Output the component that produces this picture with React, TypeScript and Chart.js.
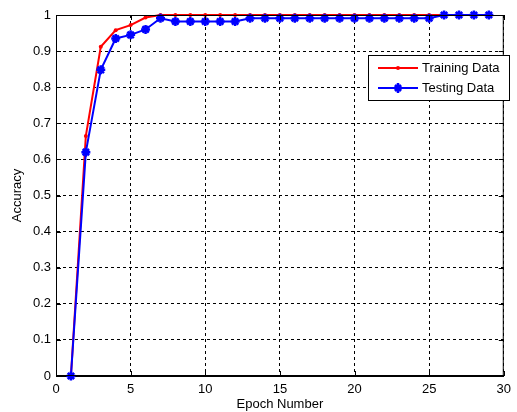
import React, { useEffect, useRef } from "react";
import { Chart, registerables } from "chart.js";

Chart.register(...registerables);

const epochs = [1, 2, 3, 4, 5, 6, 7, 8, 9, 10, 11, 12, 13, 14, 15, 16, 17, 18, 19, 20, 21, 22, 23, 24, 25, 26, 27, 28, 29];
const trainingAcc = [0, 0.665, 0.912, 0.958, 0.972, 0.993, 1, 1, 1, 1, 1, 1, 1, 1, 1, 1, 1, 1, 1, 1, 1, 1, 1, 1, 1, 1, 1, 1, 1];
const testingAcc = [0, 0.62, 0.848, 0.935, 0.945, 0.96, 0.991, 0.982, 0.982, 0.982, 0.982, 0.982, 0.991, 0.991, 0.991, 0.991, 0.991, 0.991, 0.991, 0.991, 0.991, 0.991, 0.991, 0.991, 0.991, 1, 1, 1, 1];
const xTicks = [0, 5, 10, 15, 20, 25, 30];
const seriesNames = ["Training Data", "Testing Data"];

const FONT = "Arial, 'Liberation Sans', sans-serif";

const boxAndLegend = {
  id: "boxAndLegend",
  afterDraw(chart: any) {
    const { ctx, chartArea } = chart;
    const { left, right, top, bottom } = chartArea;
    ctx.save();
    // full box
    ctx.strokeStyle = "#000";
    ctx.lineWidth = 1;
    ctx.setLineDash([]);
    ctx.strokeRect(left + 0.5, top + 0.5, right - left - 1, bottom - top - 1);
    // inward ticks
    const xs = chart.scales.x;
    const ys = chart.scales.y;
    ctx.beginPath();
    xTicks.forEach((v) => {
      const px = Math.round(xs.getPixelForValue(v)) + 0.5;
      ctx.moveTo(px, bottom);
      ctx.lineTo(px, bottom - 5);
      ctx.moveTo(px, top);
      ctx.lineTo(px, top + 5);
    });
    for (let i = 0; i <= 10; i++) {
      const py = Math.round(ys.getPixelForValue(i / 10)) + 0.5;
      ctx.moveTo(left, py);
      ctx.lineTo(left + 5, py);
      ctx.moveTo(right, py);
      ctx.lineTo(right - 5, py);
    }
    ctx.stroke();

    // legend
    const lx = 368, ly = 55, lw = 141, lh = 45;
    ctx.fillStyle = "#fff";
    ctx.fillRect(lx, ly, lw, lh);
    ctx.strokeStyle = "#000";
    ctx.strokeRect(lx + 0.5, ly + 0.5, lw, lh);
    const rows = [
      { y: 68, color: "#ff0000", name: seriesNames[0], star: false },
      { y: 88, color: "#0000ff", name: seriesNames[1], star: true },
    ];
    rows.forEach((r) => {
      ctx.strokeStyle = r.color;
      ctx.lineWidth = 2;
      ctx.beginPath();
      ctx.moveTo(378, r.y);
      ctx.lineTo(418, r.y);
      ctx.stroke();
      if (r.star) {
        ctx.lineWidth = 2.5;
        ctx.beginPath();
        ctx.moveTo(398, r.y - 5);
        ctx.lineTo(398, r.y + 5);
        ctx.moveTo(394, r.y);
        ctx.lineTo(402, r.y);
        ctx.moveTo(395, r.y - 3);
        ctx.lineTo(401, r.y + 3);
        ctx.moveTo(401, r.y - 3);
        ctx.lineTo(395, r.y + 3);
        ctx.stroke();
      } else {
        ctx.fillStyle = r.color;
        ctx.beginPath();
        ctx.arc(398, r.y, 2, 0, Math.PI * 2);
        ctx.fill();
      }
      ctx.fillStyle = "#000";
      ctx.font = `13px ${FONT}`;
      ctx.textAlign = "left";
      ctx.textBaseline = "middle";
      ctx.fillText(r.name, 422, r.y);
    });
    ctx.restore();
  },
};

export default function App() {
  const ref = useRef<HTMLCanvasElement>(null);

  useEffect(() => {
    document.body.style.margin = "0";
    const canvas = ref.current;
    if (!canvas) return;
    const chart = new Chart(canvas, {
      type: "line",
      data: {
        datasets: [
          {
            label: seriesNames[0],
            data: epochs.map((e, i) => ({ x: e, y: trainingAcc[i] })),
            borderColor: "#ff0000",
            backgroundColor: "#ff0000",
            borderWidth: 2,
            pointStyle: "circle",
            pointRadius: 2,
            pointBorderWidth: 0,
            pointBackgroundColor: "#ff0000",
            tension: 0,
            clip: 10,
            order: 2,
          },
          {
            label: seriesNames[1],
            data: epochs.map((e, i) => ({ x: e, y: testingAcc[i] })),
            borderColor: "#0000ff",
            backgroundColor: "#0000ff",
            borderWidth: 2,
            pointStyle: "star",
            pointRadius: 4.5,
            pointBorderWidth: 2.5,
            pointBorderColor: "#0000ff",
            tension: 0,
            clip: 10,
            order: 1,
          },
        ],
      },
      options: {
        responsive: false,
        animation: false,
        events: [],
        layout: { padding: { top: 15, right: 4, left: 0, bottom: 0 } },
        plugins: {
          legend: { display: false },
          tooltip: { enabled: false },
        },
        scales: {
          x: {
            type: "linear",
            min: 0,
            max: 30,
            afterBuildTicks: (s: any) => {
              s.ticks = xTicks.map((v) => ({ value: v }));
            },
            afterFit: (s: any) => {
              s.height = 36;
            },
            ticks: {
              color: "#000",
              font: { family: FONT, size: 13 },
              padding: 6,
              maxRotation: 0,
              autoSkip: false,
            },
            grid: { color: "#000", lineWidth: 1, drawTicks: false },
            border: { display: true, color: "#000", dash: [3, 3] },
            title: {
              display: true,
              text: "Epoch Number",
              color: "#000",
              font: { family: FONT, size: 13 },
              padding: { top: 0, bottom: 0 },
            },
          },
          y: {
            type: "linear",
            min: 0,
            max: 1,
            afterBuildTicks: (s: any) => {
              const t = [];
              for (let i = 0; i <= 10; i++) t.push({ value: i / 10 });
              s.ticks = t;
            },
            afterFit: (s: any) => {
              s.width = 56;
            },
            ticks: {
              color: "#000",
              font: { family: FONT, size: 13 },
              padding: 5,
              autoSkip: false,
              callback: (v: any) => String(Math.round(Number(v) * 10) / 10),
            },
            grid: { color: "#000", lineWidth: 1, drawTicks: false },
            border: { display: true, color: "#000", dash: [3, 3] },
            title: {
              display: true,
              text: "Accuracy",
              color: "#000",
              font: { family: FONT, size: 13 },
              padding: { top: 10, bottom: 0 },
            },
          },
        },
      },
      plugins: [boxAndLegend],
    } as any);
    return () => chart.destroy();
  }, []);

  return (
    <div style={{ position: "absolute", left: 0, top: 0, width: 517, height: 412, background: "#fff" }}>
      <canvas ref={ref} width={517} height={412} />
    </div>
  );
}
